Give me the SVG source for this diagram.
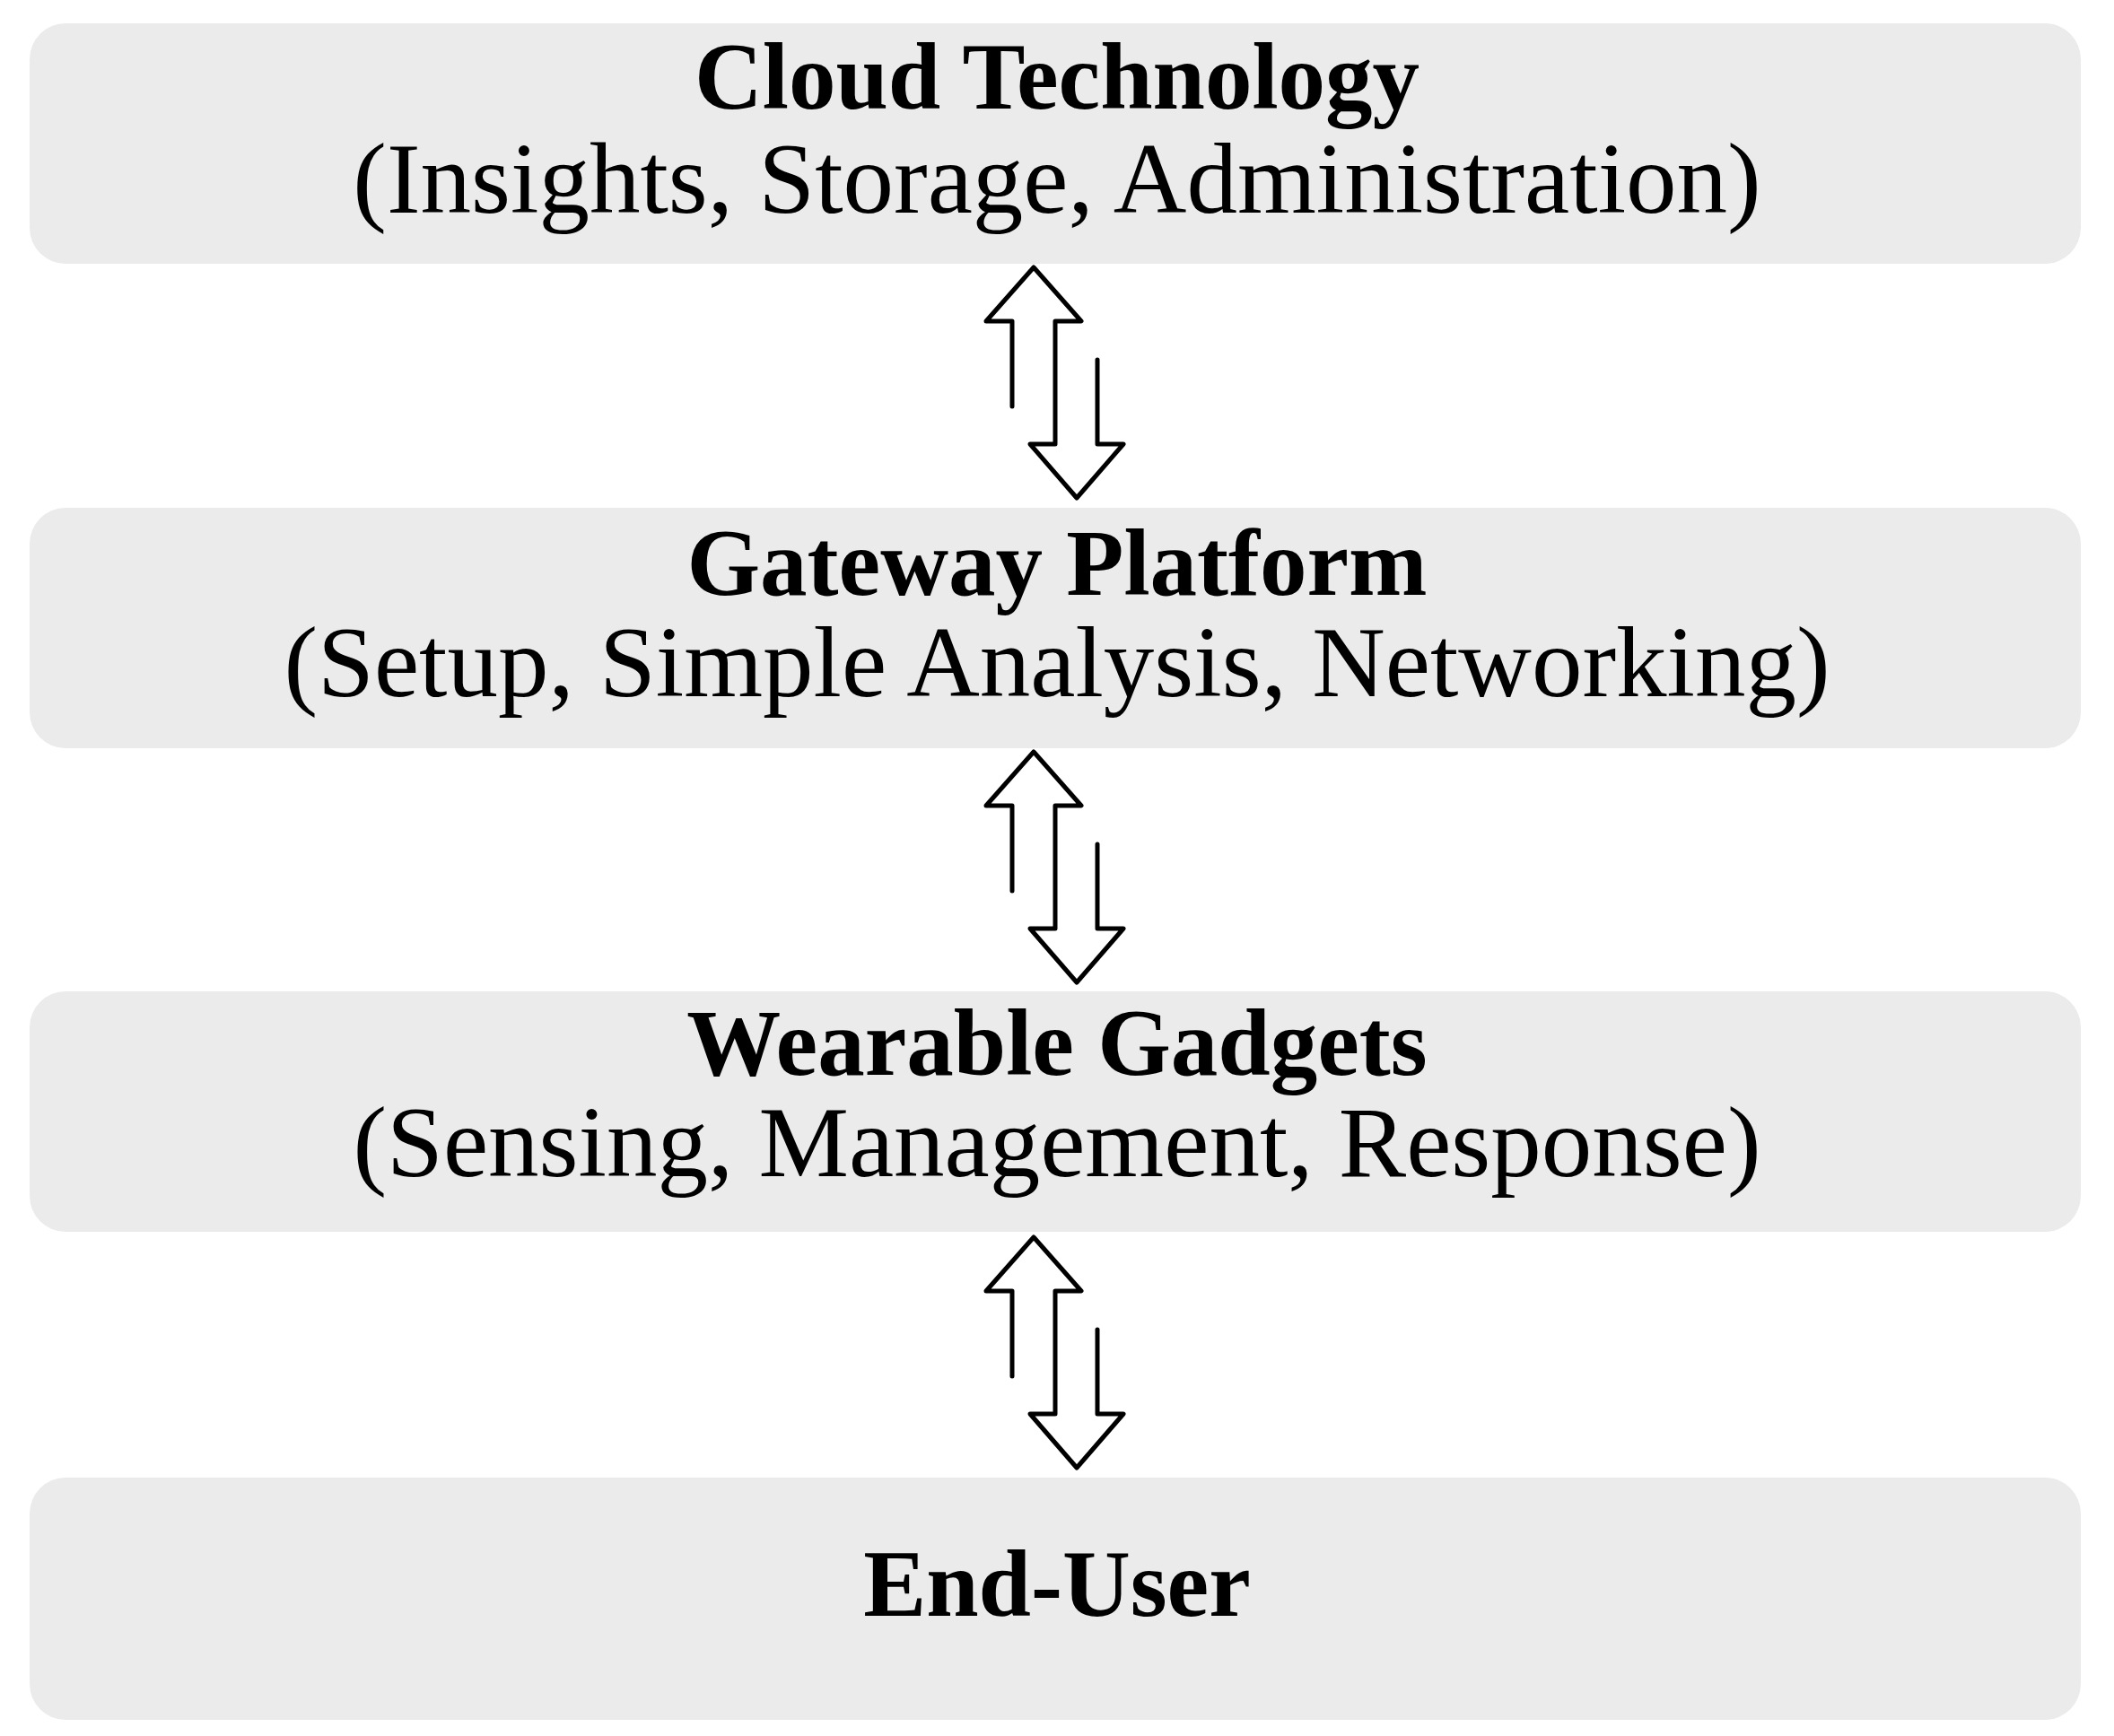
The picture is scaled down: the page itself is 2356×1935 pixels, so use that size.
<svg xmlns="http://www.w3.org/2000/svg" width="2356" height="1935" viewBox="0 0 2356 1935">
<style>
.box{fill:#ebebeb}
.t{font-family:"Liberation Serif",serif;font-size:113px;fill:#000;text-anchor:middle}
.b{font-weight:bold;font-size:105px}
.arr{fill:#fff;stroke:#000;stroke-width:5;stroke-linejoin:round;stroke-linecap:round}
</style>
<defs>
<g id="dbl">
<path class="arr" d="M1128,453 V358 H1099 L1152,298 L1205,358 H1176 V495 H1148 L1200,555 L1252,495 H1223 V401"/>
</g>
</defs>
<rect width="2356" height="1935" fill="#fff"/>
<g id="cloud"><rect class="box" x="33" y="26" width="2286" height="268" rx="40"/>
<text class="t b" x="1178" y="121">Cloud Technology</text>
<text class="t" x="1178" y="237">(Insights, Storage, Administration)</text></g>
<g id="gateway"><rect class="box" x="33" y="566" width="2286" height="268" rx="40"/>
<text class="t b" x="1178" y="663">Gateway Platform</text>
<text class="t" x="1178" y="776">(Setup, Simple Analysis, Networking)</text></g>
<g id="wearable"><rect class="box" x="33" y="1105" width="2286" height="268" rx="40"/>
<text class="t b" x="1178" y="1198">Wearable Gadgets</text>
<text class="t" x="1178" y="1311">(Sensing, Management, Response)</text></g>
<g id="enduser"><rect class="box" x="33" y="1647" width="2286" height="270" rx="40"/>
<text class="t b" x="1178" y="1801">End-User</text></g>
<g id="connectors">
<use href="#dbl"/>
<use href="#dbl" y="540"/>
<use href="#dbl" y="1081"/>
</g>
</svg>
